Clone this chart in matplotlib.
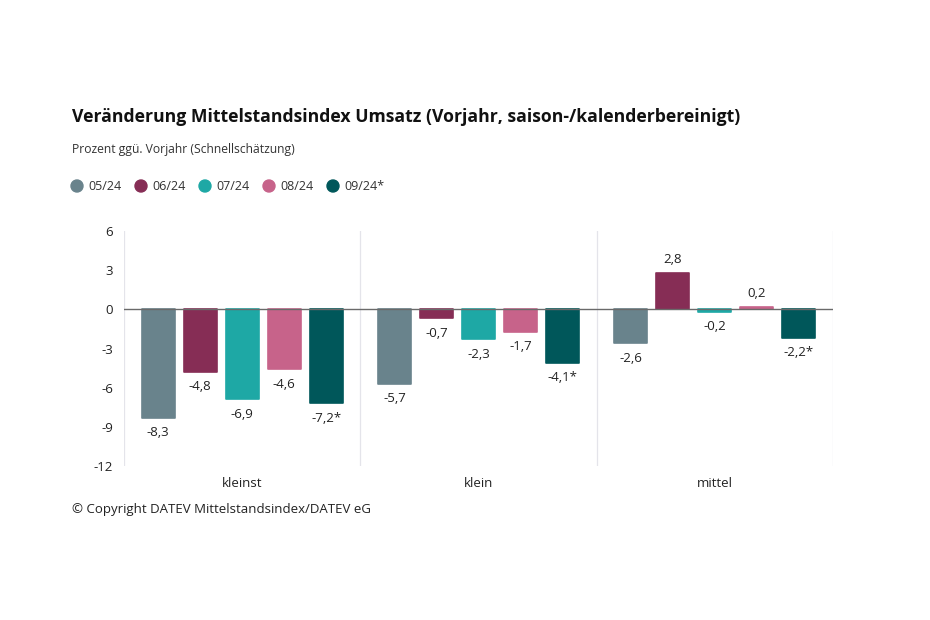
import matplotlib
matplotlib.use("Agg")
import matplotlib.pyplot as plt
import numpy as np

categories = ["kleinst", "klein", "mittel"]
series = ["05/24", "06/24", "07/24", "08/24", "09/24*"]
values = [
    [-8.3, -5.7, -2.6],
    [-4.8, -0.7, 2.8],
    [-6.9, -2.3, -0.2],
    [-4.6, -1.7, 0.2],
    [-7.2, -4.1, -2.2],
]
label_suffix = ["", "", "", "", "*"]
colors = ["#69838c", "#862d55", "#1ea8a5", "#c7638a", "#00575a"]
yticks = [6, 3, 0, -3, -6, -9, -12]

plt.rcParams['font.family'] = ['Open Sans', 'DejaVu Sans']

W, H = 930, 620
fig = plt.figure(figsize=(W/100, H/100), dpi=100)
ax = fig.add_axes([124/W, 1-466/H, (833-124)/W, (466-231)/H])

ngroups = len(categories)
pitch = 42/236.33
bw = 33/236.33
x = np.arange(ngroups)
for i, (s, vals, c) in enumerate(zip(series, values, colors)):
    off = (i - 2) * pitch
    ax.bar(x + off, vals, width=bw, color=c, edgecolor=c, linewidth=1.2,
           joinstyle='round', zorder=3)
    for xi, v in zip(x + off, vals):
        txt = f"{v:.1f}".replace(".", ",") + label_suffix[i]
        if v < 0:
            ax.annotate(txt, (xi, v), xytext=(0, -6), textcoords='offset points',
                        ha='center', va='top', fontsize=9.5, color='#222222')
        else:
            ax.annotate(txt, (xi, v), xytext=(0, 5), textcoords='offset points',
                        ha='center', va='bottom', fontsize=9.5, color='#222222')

ax.set_xlim(-0.5, ngroups - 0.5)
ax.set_ylim(-12, 6)
ax.set_yticks(yticks)
ax.set_yticklabels([str(t) for t in yticks], fontsize=9.5, color='#222222')
ax.set_xticks(x)
ax.set_xticklabels(categories, fontsize=9.5, color='#222222')
ax.tick_params(length=0, pad=8)
for sp in ax.spines.values():
    sp.set_visible(False)
for b in np.arange(ngroups + 1) - 0.5:
    ax.axvline(b, color='#e4e4ea', linewidth=0.9, zorder=1)
ax.axhline(0, color='#6a6a6a', linewidth=1.0, zorder=4)

fig.text(72/W, 1-117/H, "Veränderung Mittelstandsindex Umsatz (Vorjahr, saison-/kalenderbereinigt)",
         fontsize=12.7, fontweight='bold', color='#111111', va='center', ha='left')
fig.text(72/W, 1-149/H, "Prozent ggü. Vorjahr (Schnellschätzung)",
         fontsize=8.7, color='#333333', va='center', ha='left')

lx = [77, 141, 205, 269, 333]
for xx, s, c in zip(lx, series, colors):
    fig.patches.append(matplotlib.patches.Ellipse((xx/W, 1-186/H), 12/W, 12/H,
                                                  transform=fig.transFigure, color=c))
    fig.text((xx+11)/W, 1-186/H, s, fontsize=9, color='#333333', va='center', ha='left')

fig.text(72/W, 1-509/H, "© Copyright DATEV Mittelstandsindex/DATEV eG",
         fontsize=9.5, color='#222222', va='center', ha='left')

fig.savefig("out.png", dpi=100, facecolor='white')
